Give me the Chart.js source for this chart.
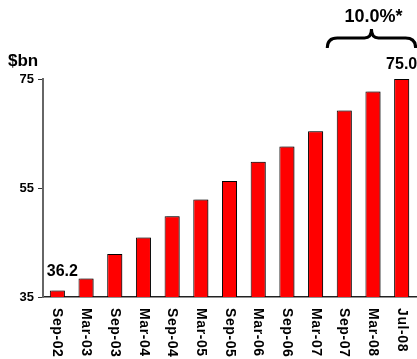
<!DOCTYPE html>
<html>
<head>
<meta charset="utf-8">
<script src="https://cdn.jsdelivr.net/npm/chart.js@4/dist/chart.umd.min.js"></script>
<style>
  html, body { margin: 0; padding: 0; background: #fff; }
  #wrap { width: 417px; height: 359px; }
</style>
</head>
<body>
<div id="wrap"><canvas id="assets"></canvas></div>
<script>
var periods = ['Sep-02', 'Mar-03', 'Sep-03', 'Mar-04', 'Sep-04', 'Mar-05', 'Sep-05',
               'Mar-06', 'Sep-06', 'Mar-07', 'Sep-07', 'Mar-08', 'Jul-08'];
var assets = [36.2, 38.4, 42.9, 45.9, 49.8, 52.9, 56.3, 59.8, 62.6, 65.4, 69.2, 72.7, 75.0];
var yTicks = [35, 55, 75];
var unitLabel = '$bn';
var growthLabel = '10.0%*';
var growthFrom = 10, growthTo = 12;   // bracket covers Sep-07 .. Jul-08
var labelled = [0, 12];               // bars with their value printed

var font = 'Arial, "Liberation Sans", sans-serif';

// grey drop shadow on the right side of each bar
var barShadow = {
  id: 'barShadow',
  beforeDatasetDraw: function(chart) {
    var ctx = chart.ctx;
    ctx.save();
    ctx.shadowColor = 'rgba(0,0,0,0.35)';
    ctx.shadowOffsetX = 2;
    ctx.shadowOffsetY = 0;
    ctx.shadowBlur = 0;
  },
  afterDatasetDraw: function(chart) {
    chart.ctx.restore();
  }
};

var extras = {
  id: 'extras',
  afterDraw: function(chart) {
    var ctx = chart.ctx;
    var xs = chart.scales.x;
    var bars = chart.getDatasetMeta(0).data;
    var bottom = chart.chartArea.bottom;

    ctx.save();
    ctx.fillStyle = '#000';

    // unit in the top left
    ctx.font = 'bold 17px ' + font;
    ctx.textAlign = 'left';
    ctx.textBaseline = 'alphabetic';
    ctx.fillText(unitLabel, 8, 66);

    // category labels, turned to read downwards
    ctx.font = 'bold 14px ' + font;
    ctx.letterSpacing = '0.6px';
    ctx.textAlign = 'left';
    ctx.textBaseline = 'middle';
    periods.forEach(function(p, i) {
      ctx.save();
      ctx.translate(xs.getPixelForTick(i), bottom + 11);
      ctx.rotate(Math.PI / 2);
      ctx.fillText(p, 0, 0);
      ctx.restore();
    });
    ctx.letterSpacing = '0px';

    // values on first and last bar
    ctx.font = 'bold 16px ' + font;
    ctx.textAlign = 'center';
    ctx.textBaseline = 'alphabetic';
    labelled.forEach(function(i) {
      var b = bars[i];
      var dx = i === 0 ? 5 : 0;
      var gap = i === 0 ? 14 : 10;
      ctx.fillText(assets[i].toFixed(1), b.x + dx, b.y - gap);
    });

    // growth bracket
    var L = xs.getPixelForValue(growthFrom) - 17;
    var R = xs.getPixelForValue(growthTo) + 14;
    var M = (L + R) / 2;
    var yb = 48, ym = 38, yt = 29;
    ctx.beginPath();
    ctx.moveTo(L, yb);
    ctx.quadraticCurveTo(L, ym, L + 10, ym);
    ctx.lineTo(M - 7, ym);
    ctx.quadraticCurveTo(M, ym, M, yt);
    ctx.quadraticCurveTo(M, ym, M + 7, ym);
    ctx.lineTo(R - 10, ym);
    ctx.quadraticCurveTo(R, ym, R, yb);
    ctx.lineWidth = 3;
    ctx.strokeStyle = '#000';
    ctx.stroke();

    ctx.font = 'bold 18px ' + font;
    ctx.fillText(growthLabel, M + 2, 22);
    ctx.restore();
  }
};

new Chart(document.getElementById('assets'), {
  type: 'bar',
  data: {
    labels: periods,
    datasets: [{
      data: assets,
      backgroundColor: '#FF0000',
      borderColor: '#000',
      borderWidth: 1,
      barPercentage: 0.525,
      categoryPercentage: 1
    }]
  },
  options: {
    responsive: true,
    maintainAspectRatio: false,
    animation: false,
    layout: { padding: { top: 79, right: 1, left: 0, bottom: 0 } },
    plugins: {
      legend: { display: false },
      tooltip: { enabled: false }
    },
    scales: {
      x: {
        offset: true,
        grid: { display: false },
        border: { color: '#222', width: 1.5 },
        ticks: { display: false },
        afterFit: function(s) { s.height = 62; }
      },
      y: {
        min: 35,
        max: 75,
        afterBuildTicks: function(s) {
          s.ticks = yTicks.map(function(v) { return { value: v }; });
        },
        grid: { drawOnChartArea: false, drawTicks: true, tickLength: 5, color: '#333' },
        border: { color: '#666', width: 2 },
        ticks: {
          color: '#000',
          padding: 4,
          font: { family: font, size: 13, weight: 'bold' }
        },
        afterFit: function(s) { s.width = 43; }
      }
    }
  },
  plugins: [barShadow, extras]
});
</script>
</body>
</html>
